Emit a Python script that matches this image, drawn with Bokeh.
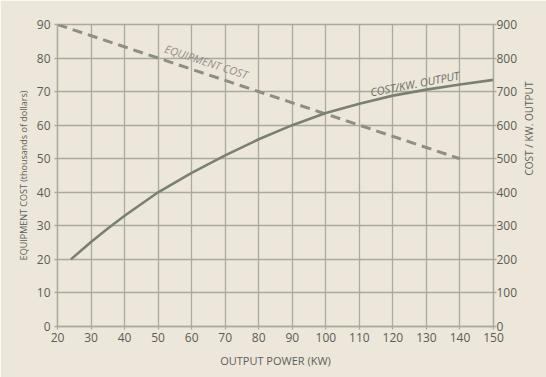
import math
from bokeh.plotting import figure
from bokeh.models import Range1d, LinearAxis, Label, FixedTicker
from bokeh.embed import file_html
from bokeh.resources import INLINE

# ---- data ----
x_ticks = [20, 30, 40, 50, 60, 70, 80, 90, 100, 110, 120, 130, 140, 150]
left_ticks = [0, 10, 20, 30, 40, 50, 60, 70, 80, 90]
right_ticks = [0, 100, 200, 300, 400, 500, 600, 700, 800, 900]

equip_power = [20, 50, 80, 110, 140]
equip_cost = [90, 80, 70, 60, 50]          # thousands of dollars

ckw_power = [24, 30, 35, 40, 50, 60, 70, 80, 90, 100, 110, 120, 130, 140, 150]
cost_per_kw = [200, 252, 292, 330, 400, 458, 510, 558, 600, 636, 664, 688, 706, 721, 735]

BG = "#ece7da"
GRID = "#a9ab9c"
TXT = "#5c5c57"
FONT = "Open Sans"

p = figure(width=546, height=377, x_range=Range1d(20, 150), y_range=Range1d(0, 90),
           output_backend="svg", toolbar_location=None,
           min_border_left=57, min_border_right=47, min_border_top=24, min_border_bottom=51)
p.extra_y_ranges = {"ckw": Range1d(0, 900)}

p.background_fill_color = BG
p.border_fill_color = BG
p.outline_line_color = GRID
p.outline_line_width = 1.3

# grids
p.xgrid.ticker = FixedTicker(ticks=x_ticks)
p.ygrid.ticker = FixedTicker(ticks=left_ticks)
for g in (p.xgrid, p.ygrid):
    g.grid_line_color = GRID
    g.grid_line_width = 1.3

# axes
p.xaxis.ticker = FixedTicker(ticks=x_ticks)
p.yaxis.ticker = FixedTicker(ticks=left_ticks)
right_axis = LinearAxis(y_range_name="ckw", ticker=FixedTicker(ticks=right_ticks))
p.add_layout(right_axis, "right")

for ax in (p.xaxis[0], p.yaxis[0], right_axis):
    ax.axis_line_color = GRID
    ax.axis_line_width = 1.3
    ax.major_tick_line_color = GRID
    ax.major_tick_line_width = 1.3
    ax.major_tick_out = 3
    ax.major_tick_in = 0
    ax.minor_tick_line_color = None
    ax.major_label_text_font = FONT
    ax.major_label_text_font_size = "12px"
    ax.major_label_text_color = TXT
    ax.axis_label_text_font = FONT
    ax.axis_label_text_font_style = "normal"
    ax.axis_label_text_color = "#5e5e59"

p.xaxis.major_label_standoff = 3
p.yaxis.major_label_standoff = 4
right_axis.major_label_standoff = 0

p.xaxis.axis_label = "OUTPUT POWER (KW)"
p.xaxis.axis_label_text_font_size = "11px"
p.xaxis.axis_label_standoff = 8

p.yaxis.axis_label = "EQUIPMENT COST (thousands of dollars)"
p.yaxis.axis_label_text_font_size = "9px"
p.yaxis.axis_label_standoff = 4

right_axis.axis_label = "COST / KW. OUTPUT"
right_axis.axis_label_text_font_size = "10px"
right_axis.axis_label_standoff = 9
try:
    right_axis.axis_label_orientation = math.pi / 2
except Exception:
    pass

# curves
p.line(equip_power, equip_cost, line_dash="10 6", line_width=3, color="#8d8e86")
p.line(ckw_power, cost_per_kw, y_range_name="ckw", line_width=2.6, color="#7a8172")

# in-chart labels
p.add_layout(Label(x=64.4, y=79.0, text="EQUIPMENT COST", angle=-18, angle_units="deg",
                   text_align="center", text_baseline="middle", text_font=FONT,
                   text_font_size="11px", text_font_style="italic", text_color="#978a8c"))
p.add_layout(Label(x=126.5, y=72.4, text="COST/KW. OUTPUT", angle=11, angle_units="deg",
                   text_align="center", text_baseline="middle", text_font=FONT,
                   text_font_size="11px", text_font_style="italic", text_color="#6c6c66"))

open("out.html", "w").write(file_html(p, INLINE))
